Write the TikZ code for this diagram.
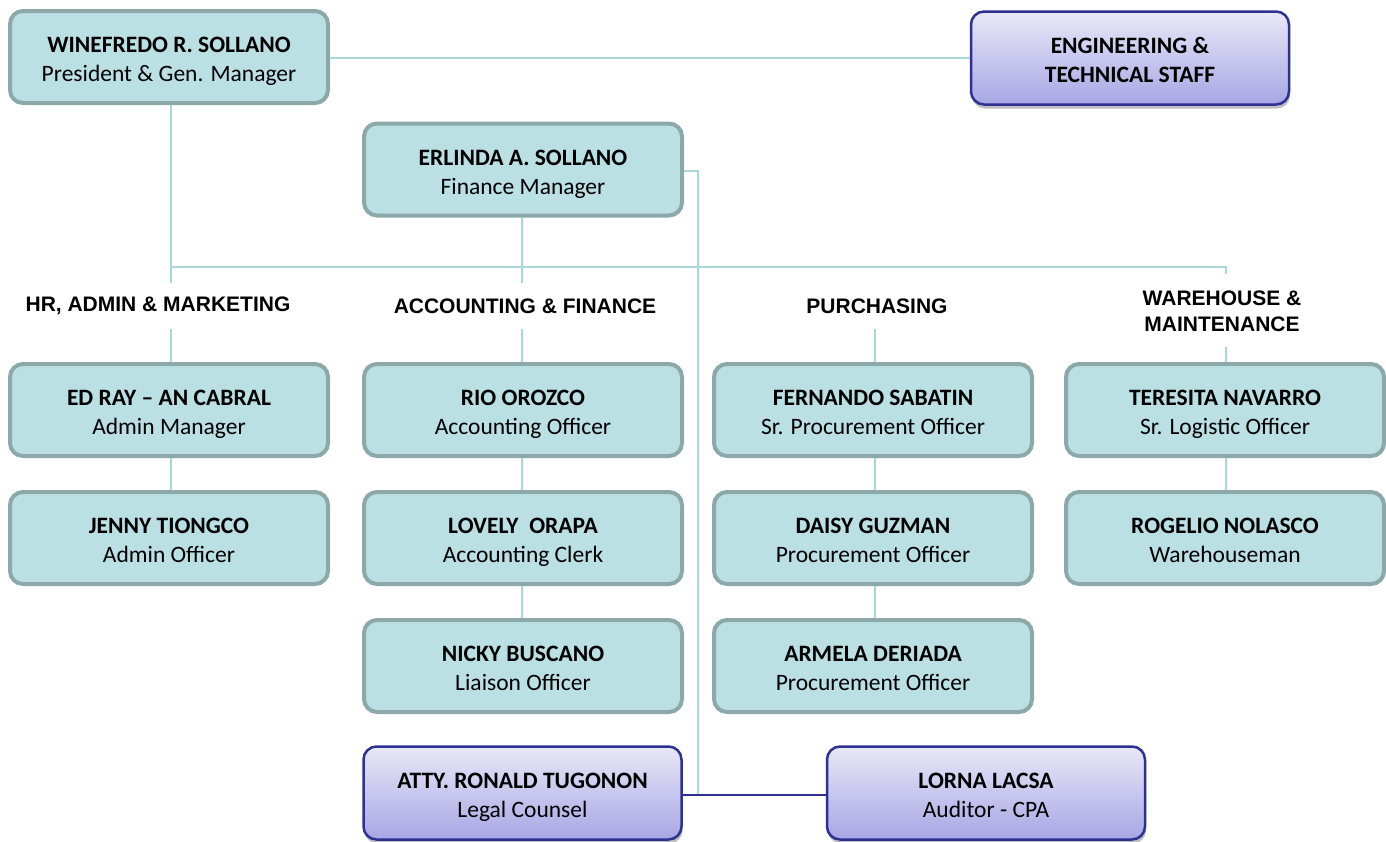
\documentclass[tikz,border=0pt]{standalone}
\usepackage{fontspec}
\setmainfont{Carlito}
\newfontfamily\hdrfont{Liberation Sans}
\usetikzlibrary{shadows}
\definecolor{linec}{HTML}{A9D7DC}
\definecolor{boxfill}{HTML}{BAE0E3}
\definecolor{boxedge}{HTML}{8DA8A9}
\definecolor{pedge}{HTML}{2E3192}
\definecolor{ptop}{HTML}{E8E8F8}
\definecolor{pbot}{HTML}{A8A6E4}
\newcommand{\twoline}[2]{\rule{0pt}{26pt}\textbf{#1}\\#2\rule[-6pt]{0pt}{6pt}}
\tikzset{
  person/.style={rounded corners=13pt, draw=boxedge, line width=4pt, fill=boxfill,
    minimum width=318pt, minimum height=92pt, inner sep=0pt, align=center,
    font=\fontsize{23.5}{29}\selectfont},
  pbox/.style={rounded corners=13pt, draw=pedge, line width=2.5pt,
    top color=ptop, bottom color=pbot,
    drop shadow={shadow xshift=1pt, shadow yshift=-4pt, opacity=0.25, fill=black},
    minimum width=318pt, minimum height=93pt, inner sep=0pt, align=center,
    font=\fontsize{23.5}{29}\selectfont},
  hdr/.style={align=center, inner sep=0pt, font=\hdrfont\bfseries\fontsize{21}{26}\selectfont},
  conn/.style={draw=linec, line width=2pt},
  pconn/.style={draw=pedge, line width=2.5pt}
}
\begin{document}
\begin{tikzpicture}[x=1pt,y=-1pt]
\useasboundingbox (0,0) rectangle (1386,841);
% nodes
\node[person] (pres) at (169,57) {\twoline{WINEFREDO R. SOLLANO}{President \& Gen. Manager}};
\node[pbox] (eng) at (1130,58) {\twoline{ENGINEERING \&}{\textbf{TECHNICAL STAFF}}};
\node[person] (fin) at (523,169.5) {\twoline{ERLINDA A. SOLLANO}{Finance Manager}};

\node[hdr] (h1) at (158,306) {HR, ADMIN \& MARKETING};
\node[hdr] (h2) at (525,306) {ACCOUNTING \& FINANCE};
\node[hdr] (h3) at (877,306) {PURCHASING};
\node[hdr] (h4) at (1222,311) {WAREHOUSE \&\\MAINTENANCE};

\node[person] (ed) at (169,410) {\twoline{ED RAY – AN CABRAL}{Admin Manager}};
\node[person] (rio) at (523,410) {\twoline{RIO OROZCO}{Accounting Officer}};
\node[person] (fer) at (873,410) {\twoline{FERNANDO SABATIN}{Sr. Procurement Officer}};
\node[person] (ter) at (1225,410) {\twoline{TERESITA NAVARRO}{Sr. Logistic Officer}};

\node[person] (jen) at (169,538) {\twoline{JENNY TIONGCO}{Admin Officer}};
\node[person] (lov) at (523,538) {\twoline{LOVELY~ ORAPA}{Accounting Clerk}};
\node[person] (dai) at (873,538) {\twoline{DAISY GUZMAN}{Procurement Officer}};
\node[person] (rog) at (1225,538) {\twoline{ROGELIO NOLASCO}{Warehouseman}};

\node[person] (nic) at (523,666) {\twoline{NICKY BUSCANO}{Liaison Officer}};
\node[person] (arm) at (873,666) {\twoline{ARMELA DERIADA}{Procurement Officer}};

\node[pbox] (leg) at (522.5,793) {\twoline{ATTY. RONALD TUGONON}{Legal Counsel}};
\node[pbox] (lor) at (986,793) {\twoline{LORNA LACSA}{Auditor - CPA}};

% coordinates
\coordinate (j1) at (171,267);
\coordinate (j1b) at (171,283);
\coordinate (j2b) at (522,283);
\coordinate (j4) at (1226,267);
\coordinate (j4b) at (1226,274);
\coordinate (t1) at (171,329);
\coordinate (t2) at (522,329);
\coordinate (t3) at (875,329);
\coordinate (t4) at (1226,347);
\coordinate (fr) at (698,171);
\coordinate (fb) at (698,795);

% connectors
\draw[conn] (pres.east |- 0,58) -- (eng.west |- 0,58);
\draw[conn] (pres.south -| j1) -- (j1b);
\draw[conn] (j1) -- (j4) -- (j4b);
\draw[conn] (fin.south -| j2b) -- (j2b);
\draw[conn] (t1) -- (ed.north -| t1);
\draw[conn] (t2) -- (rio.north -| t2);
\draw[conn] (t3) -- (fer.north -| t3);
\draw[conn] (t4) -- (ter.north -| t4);
\draw[conn] (ed.south -| t1) -- (jen.north -| t1);
\draw[conn] (rio.south -| t2) -- (lov.north -| t2);
\draw[conn] (lov.south -| t2) -- (nic.north -| t2);
\draw[conn] (fer.south -| t3) -- (dai.north -| t3);
\draw[conn] (dai.south -| t3) -- (arm.north -| t3);
\draw[conn] (ter.south -| t4) -- (rog.north -| t4);
\draw[conn] (fin.east |- fr) -- (fr) -- (fb);
\draw[pconn] (leg.east |- fb) -- (lor.west |- fb);
\end{tikzpicture}
\end{document}
